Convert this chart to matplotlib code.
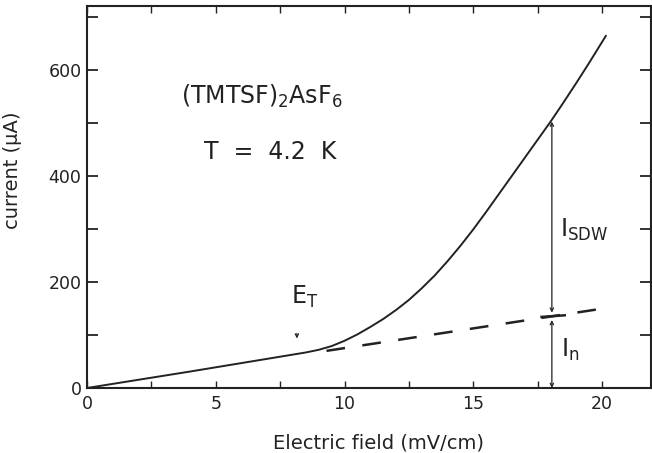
import matplotlib
matplotlib.use("Agg")
import matplotlib.pyplot as plt
from matplotlib.ticker import MultipleLocator

# Data
field = [0, 2, 4, 6, 8, 8.5, 9, 9.5, 10, 10.5, 11, 11.5, 12, 12.5, 13, 13.5,
         14, 14.5, 15, 15.5, 16, 16.5, 17, 17.5, 18, 18.5, 19, 19.5, 20.15]
current = [0, 15.5, 31, 47, 63, 67, 72, 79, 89, 101, 115, 130, 147, 166, 188, 212,
           239, 268, 299, 332, 366, 400, 434, 468, 502, 538, 575, 613, 664]

normal_field = [9.3, 20.2]
normal_current = [70, 151]

E_T = 8.15
E_marker = 18.05
I_total_at_marker = 502
I_n_at_marker = 136

plt.rcParams['font.family'] = ['DejaVu Sans']
plt.rcParams['mathtext.default'] = 'regular'

fig = plt.figure(figsize=(6.52, 4.53), dpi=100)
ax = fig.add_axes([0.1334, 0.1435, 0.8651, 0.8433])

ax.plot(field, current, color='#222222', lw=1.4, solid_capstyle='round',
        solid_joinstyle='round')
ax.plot(normal_field, normal_current, color='#222222', lw=1.8,
        linestyle=(0, (7.5, 7)))

ax.set_xlim(0, 21.9)
ax.set_ylim(0, 720)

ax.xaxis.set_major_locator(MultipleLocator(5))
ax.xaxis.set_minor_locator(MultipleLocator(2.5))
ax.yaxis.set_major_locator(MultipleLocator(200))
ax.yaxis.set_minor_locator(MultipleLocator(100))

ax.tick_params(axis='both', which='both', direction='in', top=True, right=True,
               color='#222222', labelsize=12.5, labelcolor='#222222')
ax.tick_params(axis='y', which='both', length=8, width=1.3, pad=4)
ax.tick_params(axis='x', which='both', length=5, width=1.0, pad=5)
for s in ax.spines.values():
    s.set_linewidth(1.5)
    s.set_color('#222222')

ax.set_xlabel('Electric field (mV/cm)', fontsize=14, color='#222222')
ax.set_ylabel('current (\u03bcA)', fontsize=14, color='#222222')
ax.xaxis.set_label_coords(0.516, -0.118)
ax.yaxis.set_label_coords(-0.115, 0.571)

ax.text(6.8, 549, '(TMTSF)$_2$AsF$_6$', fontsize=17, ha='center', va='center',
        color='#222222')
ax.text(7.1, 445, 'T  =  4.2  K', fontsize=17, ha='center', va='center',
        color='#222222')

# E_T marker
ax.text(8.45, 172, 'E$_\\mathrm{T}$', fontsize=17, ha='center', va='center',
        color='#222222')
ax.annotate('', xy=(E_T, 88), xytext=(E_T, 108),
            arrowprops=dict(arrowstyle='->', lw=0.9, color='#222222',
                            mutation_scale=6))

# I_SDW and I_n arrows
ax.annotate('', xy=(E_marker, I_total_at_marker), xytext=(E_marker, I_n_at_marker + 6),
            arrowprops=dict(arrowstyle='<->', lw=0.9, color='#222222',
                            mutation_scale=6, shrinkA=0, shrinkB=0))
ax.annotate('', xy=(E_marker, I_n_at_marker - 8), xytext=(E_marker, 0),
            arrowprops=dict(arrowstyle='<->', lw=0.9, color='#222222',
                            mutation_scale=6, shrinkA=0, shrinkB=0))
ax.plot([E_marker - 0.4, E_marker + 0.5], [I_n_at_marker - 2, I_n_at_marker + 1],
        color='#222222', lw=1.8)

ax.text(18.35, 298, 'I$_\\mathrm{SDW}$', fontsize=17, ha='left', va='center',
        color='#222222')
ax.text(18.4, 72, 'I$_\\mathrm{n}$', fontsize=17, ha='left', va='center',
        color='#222222')

fig.savefig('out.png', dpi=100)
